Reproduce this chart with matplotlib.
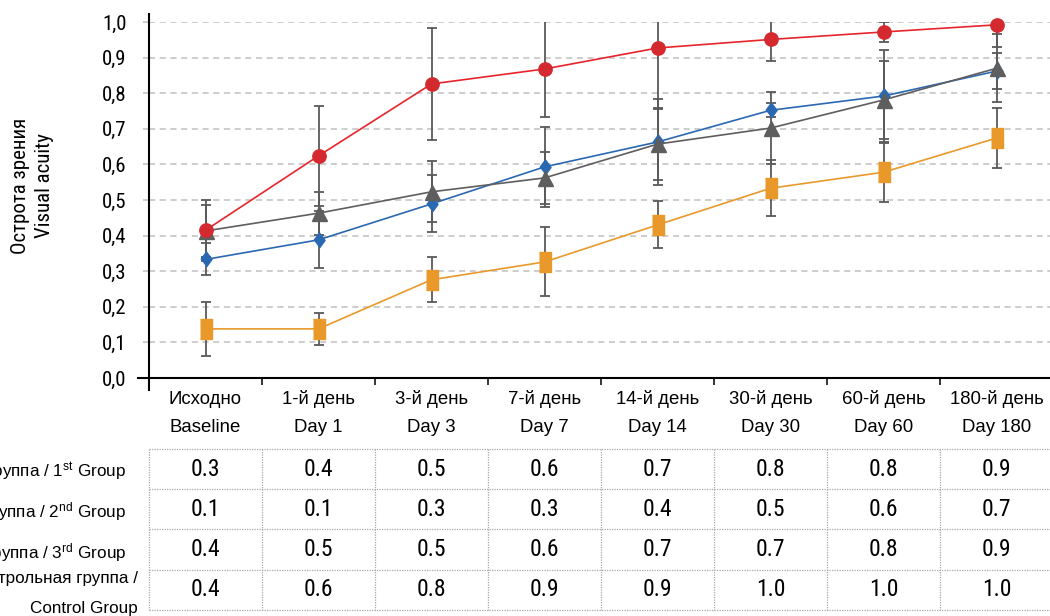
import matplotlib
matplotlib.use("Agg")
import matplotlib.pyplot as plt
from matplotlib import font_manager as fm
from matplotlib.lines import Line2D
from matplotlib.transforms import blended_transform_factory

# ---- data -------------------------------------------------------------
categories_ru = ["Исходно", "1-й день", "3-й день", "7-й день",
                 "14-й день", "30-й день", "60-й день", "180-й день"]
categories_en = ["Baseline", "Day 1", "Day 3", "Day 7",
                 "Day 14", "Day 30", "Day 60", "Day 180"]

group1 = [0.333, 0.388, 0.489, 0.593, 0.663, 0.752, 0.792, 0.862]
group1_err = [0.045, 0.080, 0.080, 0.113, 0.120, 0.020, 0.130, 0.050]

group2 = [0.138, 0.138, 0.276, 0.326, 0.430, 0.533, 0.578, 0.674]
group2_err = [0.075, 0.045, 0.063, 0.097, 0.066, 0.079, 0.083, 0.085]

group3 = [0.413, 0.463, 0.523, 0.562, 0.657, 0.702, 0.781, 0.870]
group3_err = [0.074, 0.060, 0.086, 0.074, 0.100, 0.100, 0.110, 0.095]

control = [0.415, 0.624, 0.826, 0.868, 0.927, 0.951, 0.972, 0.992]
control_err = [0.085, 0.140, 0.157, 0.134, 0.168, 0.061, 0.027, 0.061]

row_labels = ["1-я группа / 1$^{\\mathrm{st}}$ Group",
              "2-я группа / 2$^{\\mathrm{nd}}$ Group",
              "3-я группа / 3$^{\\mathrm{rd}}$ Group"]
control_label = ["Контрольная группа /", "Control Group"]

yticks = [0.0, 0.1, 0.2, 0.3, 0.4, 0.5, 0.6, 0.7, 0.8, 0.9, 1.0]

# ---- fonts ------------------------------------------------------------
REG = ["Liberation Sans", "DejaVu Sans"]


def pick_condensed():
    """Return a condensed sans family if one is installed."""
    names = {f.name for f in fm.fontManager.ttflist}
    for cand in ["Liberation Sans Narrow", "Arial Narrow", "Roboto Condensed",
                 "Noto Sans Condensed", "Open Sans Condensed",
                 "DejaVu Sans Condensed"]:
        if cand in names:
            return cand, False
    for f in fm.fontManager.ttflist:
        if f.stretch in ("condensed", "semi-condensed") and f.weight in (400, "normal", "regular"):
            return f.name, True
    return None, False


cond_name, by_stretch = pick_condensed()
NARROW = [cond_name] + REG if cond_name else REG
NARROW_KW = dict(fontfamily=NARROW)
if by_stretch:
    NARROW_KW["fontstretch"] = "condensed"
# size scale: regular fallback is a bit wider, so shrink slightly
NS = 1.0 if cond_name else 0.9

plt.rcParams["font.family"] = REG
plt.rcParams["mathtext.fontset"] = "custom"
plt.rcParams["mathtext.rm"] = "Liberation Sans"
plt.rcParams["mathtext.it"] = "Liberation Sans:italic"
plt.rcParams["mathtext.bf"] = "Liberation Sans:bold"

W, H = 1050, 616
fig = plt.figure(figsize=(W / 100, H / 100), dpi=100)


def fx(px):
    return px / W


def fy(py):
    return 1 - py / H


ax = fig.add_axes([fx(149), fy(378), fx(1053) - fx(149), fy(22) - fy(378)])
x = list(range(len(categories_en)))
ax.set_xlim(-0.5, len(x) - 0.5)
ax.set_ylim(0, 1.0)

for s in ax.spines.values():
    s.set_visible(False)

# horizontal dashed grid
ax.set_yticks(yticks)
ax.set_yticklabels([f"{v:.1f}".replace(".", ",") for v in yticks],
                   fontsize=15 * NS, **NARROW_KW)
ax.tick_params(axis="y", direction="out", length=4, width=1.1,
               color="#C0C0C0", pad=12)
ax.yaxis.grid(True, color="#C0C0C0", linewidth=1.1, linestyle=(0, (4, 3)))
ax.set_axisbelow(True)

# x ticks between categories
ax.set_xticks([i + 0.5 for i in x[:-1]])
ax.set_xticklabels([])
ax.tick_params(axis="x", direction="out", length=5, width=1.1, color="black")

# axis lines (crossing style)
fig.add_artist(Line2D([fx(138), 1.0], [fy(378), fy(378)],
                      transform=fig.transFigure, color="black", lw=1.5))
fig.add_artist(Line2D([fx(149), fx(149)], [fy(14), fy(390)],
                      transform=fig.transFigure, color="black", lw=1.5))

# ---- series -----------------------------------------------------------
ERR = "#595959"
series = [
    (group2, group2_err, "#E9992A", "#E9992A",
     [(-0.29, -0.5), (0.29, -0.5), (0.29, 0.5), (-0.29, 0.5)], 13.7, 3),
    (group1, group1_err, "#2B68B2", "#2B68B2",
     [(0, -0.5), (0.37, 0), (0, 0.5), (-0.37, 0)], 10.8, 4),
    (group3, group3_err, "#5E5E5E", "#5E5E5E", "^", 10.8, 5),
    (control, control_err, "#E8242B", "#D42A2F", "o", 9.6, 6),
]

for vals, errs, lc, mc, mk, ms, z in series:
    ax.errorbar(x, vals, yerr=errs, fmt="none", ecolor=ERR, elinewidth=1.3,
                capsize=3.4, capthick=1.3, zorder=2)
for vals, errs, lc, mc, mk, ms, z in series:
    ax.plot(x, vals, color=lc, lw=1.2, zorder=z, clip_on=False)
    ax.plot(x, vals, linestyle="none", marker=mk, markersize=ms,
            markerfacecolor=mc, markeredgecolor=mc, zorder=z + 0.5,
            clip_on=False)

# ---- category labels --------------------------------------------------
tr = blended_transform_factory(ax.transData, fig.transFigure)
for i in x:
    fig.text(i, fy(399), categories_ru[i], transform=tr, ha="center",
             va="center", fontsize=13.4, fontfamily=REG)
    fig.text(i, fy(427), categories_en[i], transform=tr, ha="center",
             va="center", fontsize=13.4, fontfamily=REG)

# y axis title
fig.text(fx(20), fy(186), "Острота зрения", rotation=90, ha="center",
         va="center", fontsize=15 * NS, **NARROW_KW)
fig.text(fx(45), fy(186), "Visual acuity", rotation=90, ha="center",
         va="center", fontsize=15 * NS, **NARROW_KW)

# ---- data table -------------------------------------------------------
row_edges = [449, 489, 529, 570, 610]
table_rows = [group1, group2, group3, control]
grid_kw = dict(color="#A8A8A8", lw=0.9, linestyle=(0, (1, 1)), clip_on=False)
for py in row_edges:
    fig.add_artist(Line2D([-0.5, len(x) - 0.5], [fy(py), fy(py)],
                          transform=tr, **grid_kw))
for k in range(len(x) + 1):
    fig.add_artist(Line2D([k - 0.5, k - 0.5], [fy(row_edges[0]), fy(row_edges[-1])],
                          transform=tr, **grid_kw))

for r, vals in enumerate(table_rows):
    cy = (row_edges[r] + row_edges[r + 1]) / 2
    for i in x:
        fig.text(i, fy(cy), f"{vals[i]:.1f}", transform=tr, ha="center",
                 va="center", fontsize=17 * NS, **NARROW_KW)

for r, lab in enumerate(row_labels):
    cy = (row_edges[r] + row_edges[r + 1]) / 2 + 3
    fig.text(fx(126), fy(cy), lab, ha="right", va="center", fontsize=12.3,
             fontfamily=REG)
fig.text(fx(138), fy(578), control_label[0], ha="right", va="center",
         fontsize=12.3, fontfamily=REG)
fig.text(fx(138), fy(609), control_label[1], ha="right", va="center",
         fontsize=12.3, fontfamily=REG)

fig.savefig("out.png", dpi=100)
